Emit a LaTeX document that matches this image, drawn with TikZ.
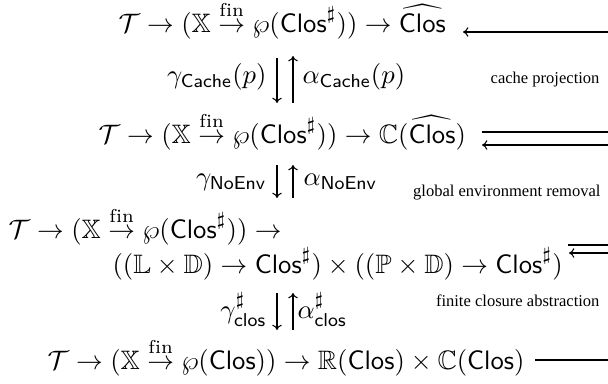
\documentclass[tikz,border=0pt]{standalone}
\usepackage{amsmath,amssymb}
\usepackage{fontspec}
\newfontfamily\notefont{Liberation Serif}
\usetikzlibrary{arrows.meta}
\newcommand{\Cl}{\mathsf{Clos}}
\newcommand{\fto}{\overset{\mathrm{fin}}{\to}}
\begin{document}
\begin{tikzpicture}[x=0.375pt,y=-0.375pt,
  row/.style={anchor=base west,inner sep=0pt,font=\fontsize{10}{12}\selectfont},
  lableft/.style={anchor=base east,inner sep=0pt,font=\fontsize{10}{12}\selectfont},
  labright/.style={anchor=base west,inner sep=0pt,font=\fontsize{10}{12}\selectfont},
  note/.style={anchor=east,inner sep=0pt,font=\notefont\fontsize{6.2}{7}\selectfont},
  arr/.style={-{To[length=2pt,width=3.6pt]},line width=0.4pt},
  ln/.style={line width=0.4pt}]
\useasboundingbox (0,0) rectangle (608,383);
% rows
\node[row] (r1) at (118,32) {$\mathcal{T}\to(\mathbb{X}\fto\wp(\Cl^\sharp))\to\widehat{\Cl}$};
\node[row] (r2) at (98,143) {$\mathcal{T}\to(\mathbb{X}\fto\wp(\Cl^\sharp))\to\mathbb{C}(\widehat{\Cl})$};
\node[row] (r3a) at (8,238) {$\mathcal{T}\to(\mathbb{X}\fto\wp(\Cl^\sharp))\to$};
\node[row] (r3b) at (112,273) {$((\mathbb{L}\times\mathbb{D})\to\Cl^\sharp)\times((\mathbb{P}\times\mathbb{D})\to\Cl^\sharp)$};
\node[row] (r4) at (47,369) {$\mathcal{T}\to(\mathbb{X}\fto\wp(\Cl))\to\mathbb{R}(\Cl)\times\mathbb{C}(\Cl)$};
% vertical labels
\node[lableft] (g1) at (267,83) {$\gamma_{\mathsf{Cache}}(p)$};
\node[labright] (a1) at (302,83) {$\alpha_{\mathsf{Cache}}(p)$};
\node[lableft] (g2) at (267,185) {$\gamma_{\mathsf{NoEnv}}$};
\node[labright] (a2) at (303,185) {$\alpha_{\mathsf{NoEnv}}$};
\node[lableft] (g3) at (267,318) {$\gamma^\sharp_{\mathsf{clos}}$};
\node[labright] (a3) at (297,318) {$\alpha^\sharp_{\mathsf{clos}}$};
% notes
\node[note] (n1) at (600,80) {cache projection};
\node[note] (n2) at (601,193) {global environment removal};
\node[note] (n3) at (600,301) {finite closure abstraction};
% vertical arrow ends
\coordinate (v1t) at (277,58); \coordinate (v1b) at (277,103);
\coordinate (u1t) at (293,56); \coordinate (u1b) at (293,103);
\coordinate (v2t) at (277,165); \coordinate (v2b) at (277,198);
\coordinate (u2t) at (293,165); \coordinate (u2b) at (293,198);
\coordinate (v3t) at (277,293); \coordinate (v3b) at (277,330);
\coordinate (u3t) at (293,293); \coordinate (u3b) at (293,330);
\draw[arr] (v1t) -- (v1b);
\draw[arr] (u1b) -- (u1t);
\draw[arr] (v2t) -- (v2b);
\draw[arr] (u2b) -- (u2t);
\draw[arr] (v3t) -- (v3b);
\draw[arr] (u3b) -- (u3t);
% right side lines
\coordinate (e1) at (608,32); \coordinate (h1) at (463,32);
\coordinate (e2a) at (608,132); \coordinate (h2a) at (482,132);
\coordinate (e2b) at (608,145); \coordinate (h2b) at (482,145);
\coordinate (e3a) at (608,245); \coordinate (h3a) at (568,245);
\coordinate (e3b) at (608,253); \coordinate (h3b) at (569,253);
\coordinate (e4) at (608,360); \coordinate (h4) at (535,360);
\draw[arr] (e1) -- (h1);
\draw[ln] (e2a) -- (h2a);
\draw[arr] (e2b) -- (h2b);
\draw[ln] (e3a) -- (h3a);
\draw[arr] (e3b) -- (h3b);
\draw[ln] (e4) -- (h4);
\end{tikzpicture}
\end{document}
